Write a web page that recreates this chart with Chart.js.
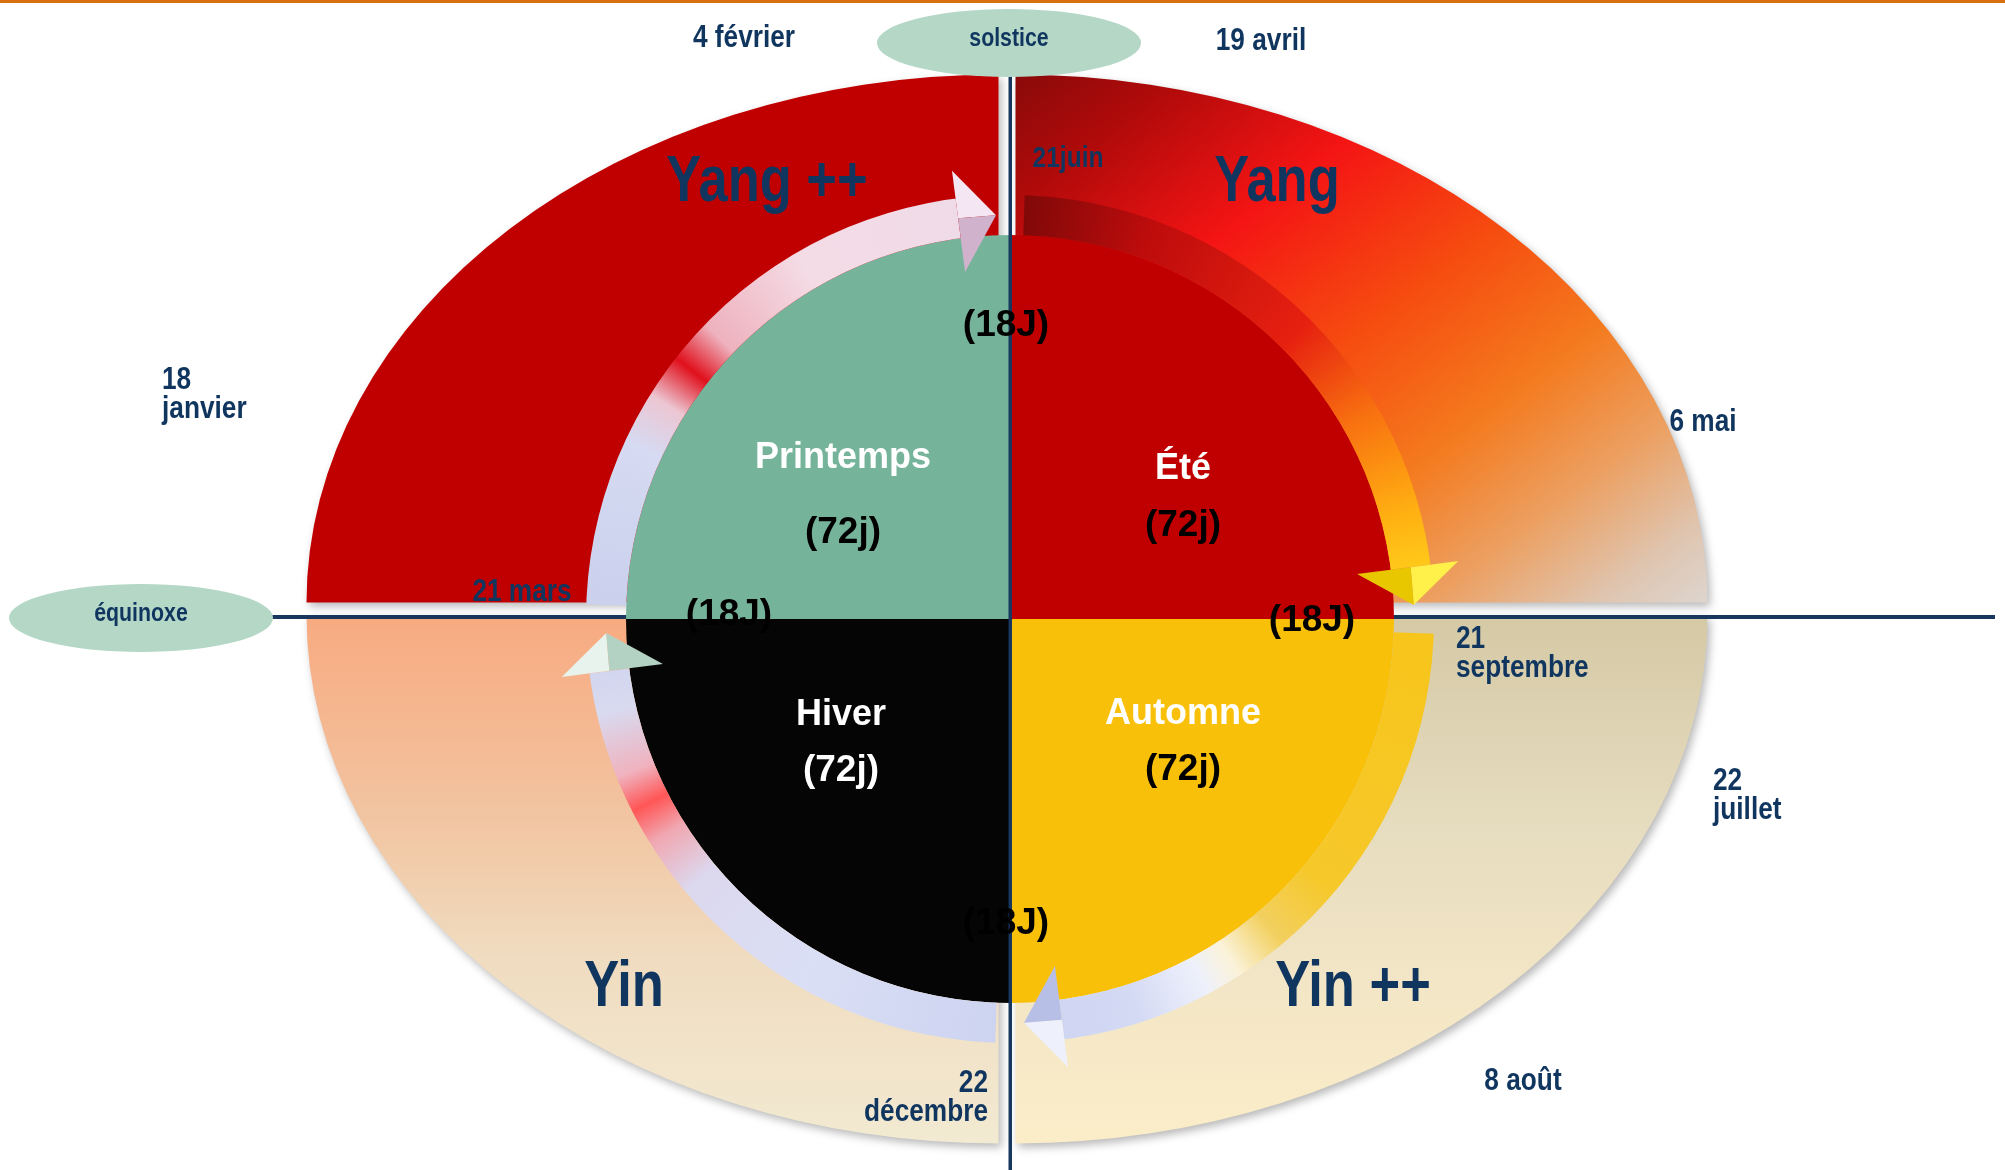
<!DOCTYPE html>
<html lang="fr">
<head>
<meta charset="utf-8">
<title>Cycle des saisons</title>
<script src="https://cdn.jsdelivr.net/npm/chart.js@4.4.1/dist/chart.umd.min.js"></script>
<style>
  html, body { margin: 0; padding: 0; background: #fff; }
  #scene { position: relative; width: 2005px; height: 1170px; overflow: hidden; }
  #scene canvas { position: absolute; left: 0; top: 0; }
</style>
</head>
<body>
<div id="scene">
  <canvas id="fond" width="2005" height="1170"></canvas>
  <canvas id="cycle" width="2005" height="1170"></canvas>
</div>
<script>
// phases de l'ellipse, sens horaire depuis midi
const phases = ['Yang', 'Yin ++', 'Yin', 'Yang ++'];
const joursPhase = [90, 90, 90, 90];

// saisons du disque central, meme ordre
const saisons = ['Été', 'Automne', 'Hiver', 'Printemps'];
const joursSaison = [72, 72, 72, 72];
const joursTransition = [18, 18, 18, 18];

// reperes du calendrier
const dates = ['4 février', '19 avril', '21juin', '18\njanvier', '6 mai', '21 mars',
               '21\nseptembre', '22\njuillet', '22\ndécembre', '8 août'];
const reperes = ['solstice', 'équinoxe'];

// --- mise en page (hors donnees) ---
const BLEU = '#10365F';
const K = 0.763;             // aplatissement vertical de l'ellipse
const RAYON_ELLIPSE = 692;
const RAYON_CYCLE = 424;
const LONGUEUR_POINTE = 38;
const ECART_POINTE = 14;
const ECART_DEBUT = 14;
const DEBORD_EXT = 28;
const DEBORD_INT = 34;

const placePhase = [[1277, 183], [1353, 988], [624, 988], [767, 183]];
const placeSaison = [[1183, 469, 526], [1183, 714, 770], [841, 715, 771], [843, 458, 533]];
const placeTransition = [[1312, 621], [1006, 924], [729, 615], [1006, 326]];
const placeDate = [
  [744, 38, 'center'], [1261, 41, 'center'], [1068, 159, 'center'], [162, 380, 'left'],
  [1703, 422, 'center'], [522, 592, 'center'], [1456, 639, 'left'], [1713, 781, 'left'],
  [988, 1083, 'right'], [1523, 1081, 'center']
];
const placeRepere = [[1009, 43], [141, 618]];

const couleursSaison = ['#C00000', '#F9C00A', '#050505', '#76B39B'];
const couleursChiffre = ['#000', '#000', '#fff', '#000'];
const couleursPointe = [['#FFF04A', '#E8C600'], ['#EEF0FC', '#B7BFE6'],
                        ['#E8F3EE', '#B4D2C4'], ['#F4E6F2', '#D0B2CC']];
const arretsAnneau = [
  [0, '#F7C51A'], [40, '#F6C82A'], [50, '#F2D060'], [57, '#FBF2D8'], [62, '#EEF1FB'],
  [72, '#D4DAF4'], [90, '#CCD3F0'], [120, '#DADFF5'], [140, '#DCD8EE'], [148, '#F0A8B2'],
  [153, '#FF5656'], [158, '#F0B2BE'], [167, '#D8DAF0'], [180, '#C9D0EC'], [205, '#D6DAF2'],
  [212, '#ECC6D2'], [218, '#E0101C'], [224, '#EEB2BE'], [240, '#F4DCE6'], [269.5, '#EEDAE8'],
  [270, '#7A0808'], [290, '#BE0C0C'], [315, '#E62010'], [330, '#F87010'], [345, '#FFB012'],
  [360, '#FFE020']
];

function centre(chart) {
  const a = chart.chartArea;
  return [(a.left + a.right) / 2, (a.top + a.bottom) / 2];
}

function couleurPhase(context) {
  const chart = context.chart;
  const repli = ['#E8401A', '#E9DDBE', '#F2C7A4', '#C00000'];
  if (!chart.chartArea) return repli[context.dataIndex];
  const [cx, cy] = centre(chart);
  const R = RAYON_ELLIPSE;
  const c = chart.ctx;
  let g;
  if (context.dataIndex === 0) {
    g = c.createLinearGradient(cx, cy - R, cx + R, cy);
    [[0, '#8A0A0A'], [0.12, '#B00A0A'], [0.3, '#F41414'], [0.5, '#F64E10'],
     [0.66, '#F47A1E'], [0.8, '#ECA062'], [0.92, '#DFC5B0'], [1, '#DDD5CF']]
      .forEach(s => g.addColorStop(s[0], s[1]));
    return g;
  }
  if (context.dataIndex === 1) {
    g = c.createLinearGradient(0, cy, 0, cy + R);
    [[0, '#D5C9A5'], [0.4, '#E6DCBF'], [0.7, '#F3E6C6'], [1, '#FBEDC8']]
      .forEach(s => g.addColorStop(s[0], s[1]));
    return g;
  }
  if (context.dataIndex === 2) {
    g = c.createLinearGradient(0, cy, 0, cy + R);
    [[0, '#F8AA80'], [0.35, '#F2C29E'], [0.65, '#F0DCC0'], [1, '#F2EAD2']]
      .forEach(s => g.addColorStop(s[0], s[1]));
    return g;
  }
  return '#C00000';
}

function degradeAnneau(context) {
  const chart = context.chart;
  const repli = ['#F05010', '#E0E4F6', '#DCDDF0', '#EAD0DC'];
  if (!chart.chartArea || !chart.ctx.createConicGradient) return repli[context.dataIndex];
  const [cx, cy] = centre(chart);
  const g = chart.ctx.createConicGradient(0, cx, cy);
  arretsAnneau.forEach(s => g.addColorStop(s[0] / 360, s[1]));
  return g;
}

function ecrire(ctx, texte, x, y, taille, couleur, align, etroit) {
  const lignes = texte.split('\n');
  ctx.save();
  ctx.font = 'bold ' + taille + 'px "Liberation Sans", Arial, sans-serif';
  ctx.fillStyle = couleur;
  ctx.textAlign = align || 'center';
  ctx.textBaseline = 'middle';
  lignes.forEach((l, i) => {
    ctx.save();
    ctx.translate(x, y + i * taille * 0.9);
    if (etroit) ctx.scale(0.82, 1);
    ctx.fillText(l, 0, 0);
    ctx.restore();
  });
  ctx.restore();
}

// ellipse : on ecrase le camembert verticalement, avec une ombre portee
const etirement = {
  id: 'etirement',
  beforeDatasetsDraw(chart) {
    const [cx, cy] = centre(chart);
    const ctx = chart.ctx;
    ctx.save();
    ctx.shadowColor = 'rgba(0, 0, 0, 0.28)';
    ctx.shadowBlur = 9;
    ctx.shadowOffsetX = 3;
    ctx.shadowOffsetY = 4;
    ctx.translate(cx, cy);
    ctx.scale(1, K);
    ctx.translate(-cx, -cy);
  },
  afterDatasetsDraw(chart) {
    chart.ctx.restore();
  },
  afterDraw(chart) {
    const ctx = chart.ctx;
    ctx.save();
    ctx.fillStyle = '#D9700F';
    ctx.fillRect(0, 0, chart.width, 3);
    ctx.strokeStyle = '#17375E';
    ctx.lineWidth = 4;
    ctx.beginPath();
    ctx.moveTo(272, 617);
    ctx.lineTo(1995, 617);
    ctx.stroke();
    ctx.restore();
  }
};

new Chart(document.getElementById('fond'), {
  type: 'pie',
  data: {
    labels: phases,
    datasets: [{ data: joursPhase, backgroundColor: couleurPhase, borderWidth: 0, offset: 48, clip: false }]
  },
  options: {
    responsive: false,
    animation: false,
    events: [],
    radius: RAYON_ELLIPSE,
    layout: { padding: { left: 306, right: 297, top: 48, bottom: 0 } },
    plugins: { legend: { display: false }, tooltip: { enabled: false } }
  },
  plugins: [etirement]
});

function polaire(x, y, r, a) {
  return [x + r * Math.cos(a), y + r * Math.sin(a)];
}

function pointe(arc) {
  const p = arc.getProps(['x', 'y', 'startAngle', 'endAngle', 'innerRadius', 'outerRadius'], true);
  const rm = (p.innerRadius + p.outerRadius) / 2;
  const bout = p.endAngle - ECART_POINTE / rm;
  return { x: p.x, y: p.y, ri: p.innerRadius, ro: p.outerRadius, debut: p.startAngle,
           fin: p.endAngle, rm: rm, bout: bout, base: bout - LONGUEUR_POINTE / rm };
}

const fleches = {
  id: 'fleches',
  beforeDatasetDraw(chart, args) {
    if (args.index !== 0) return;
    const ctx = chart.ctx;
    ctx.save();
    ctx.beginPath();
    ctx.rect(0, 0, chart.width, chart.height);
    chart.getDatasetMeta(0).data.forEach(arc => {
      const g = pointe(arc);
      ctx.moveTo(g.x, g.y);
      ctx.arc(g.x, g.y, g.ro + 60, g.base, g.fin);
      ctx.closePath();
      ctx.moveTo(g.x, g.y);
      ctx.arc(g.x, g.y, g.ro + 60, g.debut, g.debut + ECART_DEBUT / g.rm);
      ctx.closePath();
    });
    ctx.clip('evenodd');
  },
  afterDatasetDraw(chart, args) {
    if (args.index !== 0) return;
    const ctx = chart.ctx;
    ctx.restore();
    chart.getDatasetMeta(0).data.forEach((arc, i) => {
      const g = pointe(arc);
      const ext = polaire(g.x, g.y, g.ro + DEBORD_EXT, g.base);
      const int = polaire(g.x, g.y, g.ri - DEBORD_INT, g.base);
      const mil = polaire(g.x, g.y, g.rm, g.base);
      const tip = polaire(g.x, g.y, g.rm, g.bout);
      ctx.save();
      ctx.beginPath();
      ctx.moveTo(ext[0], ext[1]); ctx.lineTo(tip[0], tip[1]); ctx.lineTo(mil[0], mil[1]);
      ctx.closePath();
      ctx.fillStyle = couleursPointe[i][0];
      ctx.fill();
      ctx.beginPath();
      ctx.moveTo(mil[0], mil[1]); ctx.lineTo(tip[0], tip[1]); ctx.lineTo(int[0], int[1]);
      ctx.closePath();
      ctx.fillStyle = couleursPointe[i][1];
      ctx.fill();
      ctx.restore();
    });
  },
  afterDraw(chart) {
    const ctx = chart.ctx;
    const [cx] = centre(chart);

    // axe vertical du solstice
    ctx.save();
    ctx.fillStyle = '#17375E';
    ctx.fillRect(cx - 1.5, 40, 3.5, chart.height - 40);

    // ovales solstice / equinoxe
    ctx.fillStyle = '#B4D7C6';
    placeRepere.forEach(p => {
      ctx.beginPath();
      ctx.ellipse(p[0], p[1], 132, 34, 0, 0, Math.PI * 2);
      ctx.fill();
    });
    ctx.restore();
    reperes.forEach((t, i) => ecrire(ctx, t, placeRepere[i][0], placeRepere[i][1] - 4, 26, BLEU, 'center', true));

    // phases
    phases.forEach((t, i) => ecrire(ctx, t, placePhase[i][0], placePhase[i][1], 64, BLEU, 'center', true));

    // saisons et durees
    saisons.forEach((t, i) => {
      const p = placeSaison[i];
      ecrire(ctx, t, p[0], p[1], 36, '#fff', 'center', false);
      ecrire(ctx, '(' + joursSaison[i] + 'j)', p[0], p[2], 37, couleursChiffre[i], 'center', false);
    });
    joursTransition.forEach((j, i) => {
      ecrire(ctx, '(' + j + 'J)', placeTransition[i][0], placeTransition[i][1], 37, '#000', 'center', false);
    });

    // dates
    dates.forEach((t, i) => {
      const p = placeDate[i];
      ecrire(ctx, t, p[0], p[1], i === 2 ? 30 : 32, BLEU, p[2], true);
    });
  }
};

const anneau = joursSaison.map((j, i) => j + joursTransition[i]);

new Chart(document.getElementById('cycle'), {
  type: 'pie',
  data: {
    labels: saisons,
    datasets: [
      { label: 'cycle', data: anneau, backgroundColor: degradeAnneau, borderWidth: 0, weight: 40 },
      { label: 'saisons', data: joursSaison, backgroundColor: couleursSaison, borderWidth: 0, weight: 384 }
    ]
  },
  options: {
    responsive: false,
    animation: false,
    events: [],
    radius: RAYON_CYCLE,
    layout: { padding: { left: 510, right: 495, top: 119, bottom: 51 } },
    plugins: { legend: { display: false }, tooltip: { enabled: false } }
  },
  plugins: [fleches]
});
</script>
</body>
</html>
